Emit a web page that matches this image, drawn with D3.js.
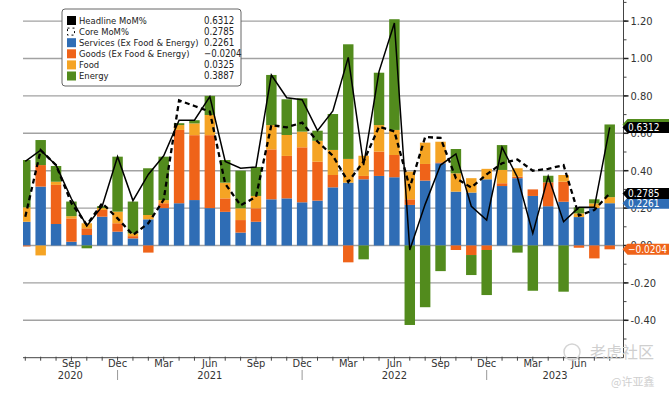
<!DOCTYPE html>
<html>
<head>
<meta charset="utf-8">
<script src="https://cdn.jsdelivr.net/npm/d3@7"></script>
<style>
  body { margin: 0; background: #fff; }
  svg { display: block; font-family: "Liberation Sans Narrow", "DejaVu Sans Condensed", "Liberation Sans", sans-serif; }
</style>
</head>
<body>
<svg id="chart" width="669" height="393"></svg>
<script>
// Monthly CPI contributions, Jun 2020 - Aug 2023
const months = [
  "2020-06","2020-07","2020-08","2020-09","2020-10","2020-11","2020-12",
  "2021-01","2021-02","2021-03","2021-04","2021-05","2021-06","2021-07","2021-08","2021-09","2021-10","2021-11","2021-12",
  "2022-01","2022-02","2022-03","2022-04","2022-05","2022-06","2022-07","2022-08","2022-09","2022-10","2022-11","2022-12",
  "2023-01","2023-02","2023-03","2023-04","2023-05","2023-06","2023-07","2023-08"
];
const services = [0.127, 0.315, 0.115, 0.02, 0.056, 0.154, 0.074, 0.038, 0.14, 0.20,
  0.226, 0.243, 0.20, 0.18, 0.069, 0.127, 0.247, 0.252, 0.231, 0.24,
  0.311, 0.336, 0.354, 0.372, 0.365, 0.217, 0.347, 0.44, 0.288, 0.283,
  0.354, 0.318, 0.36, 0.265, 0.21, 0.234, 0.152, 0.20, 0.2261];
const goods = [-0.005, 0.115, 0.209, 0.125, 0.036, 0.036, 0.045, 0.012, -0.038, 0.026,
  0.392, 0.347, 0.39, 0.072, 0.067, 0.072, 0.267, 0.227, 0.294, 0.208,
  0.066, -0.09, 0.018, 0.13, 0.119, 0.03, 0.089, 0.005, -0.024, -0.051,
  -0.024, 0.015, 0.008, 0.035, 0.128, 0.107, -0.012, -0.069, -0.0204];
const food = [0.077, -0.053, 0.017, 0.012, 0.027, 0.01, 0.062, 0.015, 0.023, 0.017,
  0.026, 0.063, 0.108, 0.084, 0.063, 0.066, 0.13, 0.112, 0.084, 0.112,
  0.134, 0.127, 0.108, 0.142, 0.134, 0.148, 0.114, 0.11, 0.098, 0.077,
  0.056, 0.071, 0.045, 0.0, 0.0, 0.036, 0.02, 0.025, 0.0325];
const energy = [0.253, 0.134, 0.084, 0.078, -0.015, 0.01, 0.294, 0.17, 0.25, 0.232,
  0.01, 0.017, 0.102, 0.121, 0.201, 0.155, 0.268, 0.191, 0.178, 0.054,
  0.192, 0.613, -0.074, 0.28, 0.592, -0.425, -0.33, -0.137, 0.13, -0.107,
  -0.241, 0.133, -0.038, -0.242, 0.035, -0.247, 0.032, 0.022, 0.3887];
const headline = [0.45, 0.51, 0.43, 0.25, 0.105, 0.21, 0.475, 0.24, 0.38, 0.48,
  0.67, 0.67, 0.796, 0.45, 0.413, 0.42, 0.912, 0.79, 0.78, 0.614,
  0.72, 1.006, 0.43, 0.93, 1.19, -0.024, 0.22, 0.43, 0.49, 0.21,
  0.136, 0.525, 0.365, 0.065, 0.37, 0.127, 0.204, 0.204, 0.6312];
const core = [0.154, 0.51, 0.43, 0.226, 0.11, 0.226, 0.145, 0.056, 0.119, 0.245,
  0.776, 0.746, 0.716, 0.33, 0.215, 0.26, 0.644, 0.632, 0.657, 0.556,
  0.48, 0.34, 0.45, 0.635, 0.61, 0.31, 0.58, 0.575, 0.36, 0.31,
  0.38, 0.44, 0.46, 0.40, 0.41, 0.43, 0.16, 0.19, 0.2785];

const seriesKeys = ["services", "goods", "food", "energy"];
const legendNames = ["Headline MoM%", "Core MoM%", "Services (Ex Food & Energy)",
  "Goods (Ex Food & Energy)", "Food", "Energy"];
const legendValues = ["0.6312", "0.2785", "0.2261", "\u22120.0204", "0.0325", "0.3887"];
const yTicks = [-0.4, -0.2, 0, 0.2, 0.4, 0.6, 0.8, 1.0, 1.2];
const yearLabels = ["2020", "2021", "2022", "2023"];
const monthLabels = { 3: "Mar", 6: "Jun", 9: "Sep", 12: "Dec" };

const colors = {
  services: "#2f6db5",
  goods: "#ef6319",
  food: "#f5a424",
  energy: "#528b1d"
};

const plot = { left: 23, right: 623.5, top: 0 };

const svg = d3.select("#chart");

// Scales
const x = d3.scaleBand()
  .domain(months)
  .range([17.6, 617.4])
  .paddingInner(0.32)
  .paddingOuter(0.16);
const cx = m => x(m) + x.bandwidth() / 2;

const y = d3.scaleLinear()
  .domain([-0.6, 1.3])
  .range([357.7, 2.4]);

// Clip
svg.append("defs").append("clipPath").attr("id", "plotclip")
  .append("rect")
  .attr("x", plot.left).attr("y", 0)
  .attr("width", plot.right - plot.left).attr("height", y(-0.6));

// Gridlines
svg.append("g")
  .selectAll("line")
  .data(yTicks)
  .enter()
  .append("line")
  .attr("x1", plot.left)
  .attr("x2", plot.right)
  .attr("y1", d => y(d))
  .attr("y2", d => y(d))
  .attr("stroke", "#a2a2a2")
  .attr("stroke-width", 1.4);

// Stacked bars
const table = months.map((m, i) => ({
  month: m,
  services: services[i],
  goods: goods[i],
  food: food[i],
  energy: energy[i]
}));

const stacked = d3.stack()
  .keys(seriesKeys)
  .offset(d3.stackOffsetDiverging)(table);

const barG = svg.append("g").attr("clip-path", "url(#plotclip)");

barG.selectAll("g")
  .data(stacked)
  .enter()
  .append("g")
  .attr("fill", d => colors[d.key])
  .selectAll("rect")
  .data(d => d)
  .enter()
  .append("rect")
  .attr("x", d => x(d.data.month))
  .attr("width", x.bandwidth())
  .attr("y", d => y(Math.max(d[0], d[1])))
  .attr("height", d => Math.abs(y(d[0]) - y(d[1])));

// Lines
const line = d3.line()
  .x((d, i) => cx(months[i]))
  .y(d => y(d));

barG.append("path")
  .datum(core)
  .attr("d", line)
  .attr("fill", "none")
  .attr("stroke", "#000")
  .attr("stroke-width", 2.3)
  .attr("stroke-dasharray", "5,3.5");

barG.append("path")
  .datum(headline)
  .attr("d", line)
  .attr("fill", "none")
  .attr("stroke", "#000")
  .attr("stroke-width", 1.5);

// Right axis
const yAxisG = svg.append("g")
  .attr("transform", `translate(${plot.right},0)`);

yAxisG.append("line")
  .attr("x1", 0).attr("x2", 0)
  .attr("y1", 0).attr("y2", y(-0.6))
  .attr("stroke", "#444").attr("stroke-width", 1);

yAxisG.selectAll(".minor")
  .data(d3.range(-5, 14).map(v => v / 10))
  .enter()
  .append("line")
  .attr("x1", 0).attr("x2", 3)
  .attr("y1", d => y(d)).attr("y2", d => y(d))
  .attr("stroke", "#444");

yAxisG.selectAll(".major")
  .data(yTicks)
  .enter()
  .append("line")
  .attr("x1", 0).attr("x2", 5)
  .attr("y1", d => y(d)).attr("y2", d => y(d))
  .attr("stroke", "#222").attr("stroke-width", 1.5);

yAxisG.selectAll("text")
  .data(yTicks)
  .enter()
  .append("text")
  .attr("x", 7)
  .attr("y", d => y(d))
  .attr("dy", "0.35em")
  .attr("font-size", 11)
  .attr("fill", "#333")
  .text(d => d3.format(".2f")(d).replace("\u2212", "-"));

// Value tags on right axis
function tag(v, fill, textFill, label) {
  const yy = y(v);
  const h = 11;
  const g = svg.append("g").attr("transform", `translate(${plot.right - 1},${yy})`);
  g.append("path")
    .attr("d", `M0,0 L5,${-h / 2} L60,${-h / 2} L60,${h / 2} L5,${h / 2} Z`)
    .attr("fill", fill);
  if (label) {
    g.append("text")
      .attr("x", 5.5)
      .attr("dy", "0.36em")
      .attr("font-size", 10)
      .attr("fill", textFill)
      .text(label);
  }
}
const last = months.length - 1;
tag(energy[last] + food[last] + services[last], colors.energy, "#fff", null);
tag(goods[last], colors.goods, "#fff", legendValues[3]);
tag(services[last], colors.services, "#fff", legendValues[2]);
tag(core[last], "#000", "#fff", legendValues[1]);
tag(headline[last], "#000", "#fff", legendValues[0]);

// Bottom axis
const axisY = y(-0.6);
const xAxisG = svg.append("g");

xAxisG.append("line")
  .attr("x1", plot.left).attr("x2", plot.right)
  .attr("y1", axisY).attr("y2", axisY)
  .attr("stroke", "#444");

xAxisG.selectAll(".tick")
  .data(months)
  .enter()
  .append("line")
  .attr("x1", d => cx(d)).attr("x2", d => cx(d))
  .attr("y1", axisY - 1).attr("y2", axisY + 3)
  .attr("stroke", "#444");

// first month sits on the edge and carries no label
xAxisG.selectAll(".mlabel")
  .data(months.filter((m, i) => i > 0 && monthLabels[+m.slice(5)]))
  .enter()
  .append("text")
  .attr("x", d => cx(d))
  .attr("y", 367)
  .attr("text-anchor", "middle")
  .attr("font-size", 11)
  .attr("fill", "#333")
  .text(d => monthLabels[+d.slice(5)]);

// Year separators at December ticks, year labels centred in their spans
const decs = months.filter(m => m.endsWith("-12")).map(cx);
xAxisG.selectAll(".sep")
  .data(decs)
  .enter()
  .append("line")
  .attr("x1", d => d).attr("x2", d => d)
  .attr("y1", 370).attr("y2", 380)
  .attr("stroke", "#999");

const bounds = [plot.left, ...decs, plot.right];
xAxisG.selectAll(".ylabel")
  .data(yearLabels)
  .enter()
  .append("text")
  .attr("x", (d, i) => (bounds[i] + bounds[i + 1]) / 2)
  .attr("y", 379)
  .attr("text-anchor", "middle")
  .attr("font-size", 11)
  .attr("fill", "#333")
  .text(d => d);

// Legend
const legend = svg.append("g");
legend.append("rect")
  .attr("x", 62).attr("y", 9)
  .attr("width", 179).attr("height", 77)
  .attr("rx", 3)
  .attr("fill", "#fff")
  .attr("stroke", "#666");

const swatch = [
  { fill: "#000" },
  { fill: "#fff", dash: true },
  { fill: colors.services },
  { fill: colors.goods },
  { fill: colors.food },
  { fill: colors.energy }
];

legendNames.forEach((name, i) => {
  const ly = 20.5 + i * 11.1;
  const s = swatch[i];
  legend.append("rect")
    .attr("x", s.dash ? 67.5 : 67).attr("y", s.dash ? ly - 3.5 : ly - 4.5)
    .attr("width", s.dash ? 7 : 9).attr("height", s.dash ? 7 : 9)
    .attr("fill", s.fill)
    .attr("stroke", s.dash ? "#000" : "none")
    .attr("stroke-dasharray", s.dash ? "2,3" : null);
  legend.append("text")
    .attr("x", 79).attr("y", ly)
    .attr("dy", "0.35em")
    .attr("font-size", 9.4)
    .attr("fill", "#222")
    .text(name);
  legend.append("text")
    .attr("x", 204).attr("y", ly)
    .attr("dy", "0.35em")
    .attr("font-size", 9.6)
    .attr("fill", "#222")
    .text(legendValues[i]);
});

// Watermark
const wm = svg.append("g").attr("fill", "#cfcfcf")
  .style("font-family", "'Noto Sans CJK SC', sans-serif");
wm.append("circle")
  .attr("cx", 572).attr("cy", 352).attr("r", 8)
  .attr("fill", "none").attr("stroke", "#d4d4d4").attr("stroke-width", 1.5);
wm.append("text")
  .attr("x", 590).attr("y", 358)
  .attr("font-size", 16)
  .text("老虎社区");
wm.append("text")
  .attr("x", 611).attr("y", 386)
  .attr("font-size", 11)
  .text("@许亚鑫");
</script>
</body>
</html>
